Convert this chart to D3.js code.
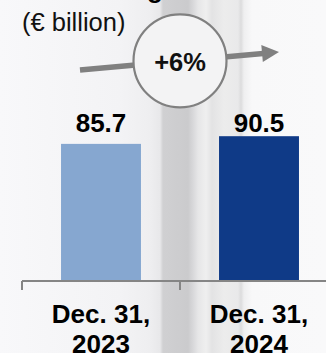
<!DOCTYPE html>
<html>
<head>
<meta charset="utf-8">
<script src="https://cdn.jsdelivr.net/npm/d3@7"></script>
<style>
  html, body { margin: 0; padding: 0; background: #f8f8f9; }
  svg { display: block; font-family: "Liberation Sans", Arial, sans-serif; }
</style>
</head>
<body>
<svg id="chart" width="326" height="353"></svg>
<script>
// Outstanding amounts, € billion
const categories = ["Dec. 31, 2023", "Dec. 31, 2024"];
const categoryLines = [["Dec. 31,", "2023"], ["Dec. 31,", "2024"]];
const values = [85.7, 90.5];
const valueLabels = ["85.7", "90.5"];
const growthLabel = "+6%";
const unitLabel = "(€ billion)";
const barColors = ["#86a7d0", "#0f3a87"];

const W = 326, H = 353;
const svg = d3.select("#chart");

// Backdrop: soft vertical light bands
const defs = svg.append("defs");
const bg = defs.append("linearGradient").attr("id", "bg")
  .attr("gradientUnits", "userSpaceOnUse")
  .attr("x1", 0).attr("x2", W).attr("y1", 0).attr("y2", 0);
[
  [0, "#f8f8fa"], [120, "#f3f3f5"], [150, "#eeeef0"], [160, "#e8e8ea"],
  [163, "#d0d0d2"], [188, "#cbcbcd"], [193, "#d8d8da"], [198, "#e6e6e7"],
  [206, "#efefef"], [212, "#e3e3e4"], [224, "#ececec"], [238, "#e9e9ea"],
  [241, "#dcdcdd"], [244, "#efeff0"], [252, "#f8f8f9"], [326, "#f9f9fa"]
].forEach(([x, c]) => bg.append("stop").attr("offset", x / W).attr("stop-color", c));
svg.append("rect").attr("width", W).attr("height", H).attr("fill", "url(#bg)");

// Scales
const x = d3.scaleBand().domain(categories).range([22, 338]).padding(0);
const barW = x.bandwidth() * 0.506;
const y = d3.scaleLinear().domain([0, 100]).range([281, 121]);

// Title tail
svg.append("text").attr("x", 155).attr("y", -2).attr("text-anchor", "middle")
  .attr("font-size", 26).attr("font-weight", "bold").attr("fill", "#000").text("g");

// Unit label
svg.append("text").attr("x", 22).attr("y", 31)
  .attr("font-size", 25.5).attr("fill", "#111").text(unitLabel);

// Bars
svg.selectAll("rect.bar").data(values).join("rect").attr("class", "bar")
  .attr("x", (d, i) => x(categories[i]) + (x.bandwidth() - barW) / 2)
  .attr("y", d => y(d))
  .attr("width", barW)
  .attr("height", d => y(0) - y(d))
  .attr("fill", (d, i) => barColors[i]);

// Value labels
svg.selectAll("text.val").data(valueLabels).join("text").attr("class", "val")
  .attr("x", (d, i) => x(categories[i]) + x.bandwidth() / 2)
  .attr("y", 132)
  .attr("text-anchor", "middle").attr("font-size", 26).attr("font-weight", "bold")
  .attr("fill", "#000").text(d => d);

// Category axis: baseline with ticks at band boundaries
const axisG = svg.append("g").attr("stroke", "#858585").attr("stroke-width", 2);
axisG.append("line").attr("x1", x.range()[0]).attr("x2", x.range()[1])
  .attr("y1", y(0)).attr("y2", y(0));
const tickXs = categories.map(c => x(c)).concat([x.range()[1]]);
axisG.selectAll("line.tick").data(tickXs).join("line").attr("class", "tick")
  .attr("x1", d => d).attr("x2", d => d)
  .attr("y1", y(0)).attr("y2", y(0) + 9);

// Category labels
const catG = svg.selectAll("text.cat").data(categoryLines).join("text").attr("class", "cat")
  .attr("text-anchor", "middle").attr("font-size", 26).attr("font-weight", "bold").attr("fill", "#000");
catG.selectAll("tspan").data((d, i) => d.map(t => ({ t, i }))).join("tspan")
  .attr("x", d => x(categories[d.i]) + x.bandwidth() / 2)
  .attr("y", (d, j) => 323 + j * 30)
  .text(d => d.t);

// Growth arrow with badge
const arrowColor = "#808080";
const cx = (x(categories[0]) + x(categories[1]) + x.bandwidth()) / 2;
const p0 = [80, 70], tip = [279, 52];
const slope = (tip[1] - p0[1]) / (tip[0] - p0[0]);
const headLen = 17, headHalf = 8.5;
const ang = Math.atan(slope);
const base = [tip[0] - headLen * Math.cos(ang), tip[1] - headLen * Math.sin(ang)];
svg.append("line").attr("x1", p0[0]).attr("y1", p0[1])
  .attr("x2", base[0] + 1).attr("y2", base[1] + slope)
  .attr("stroke", arrowColor).attr("stroke-width", 5.5);
const nx = -Math.sin(ang), ny = Math.cos(ang);
svg.append("path")
  .attr("d", `M${tip[0]},${tip[1]} L${base[0] + nx * headHalf},${base[1] + ny * headHalf} L${base[0] - nx * headHalf},${base[1] - ny * headHalf} Z`)
  .attr("fill", arrowColor);
const cy = p0[1] + slope * (cx - p0[0]);
svg.append("circle").attr("cx", cx).attr("cy", cy).attr("r", 46.5)
  .attr("fill", "#f3f3f4").attr("stroke", arrowColor).attr("stroke-width", 2.2);
svg.append("text").attr("x", cx).attr("y", 71).attr("text-anchor", "middle")
  .attr("font-size", 25.5).attr("font-weight", "bold").attr("fill", "#111").text(growthLabel);
</script>
</body>
</html>
